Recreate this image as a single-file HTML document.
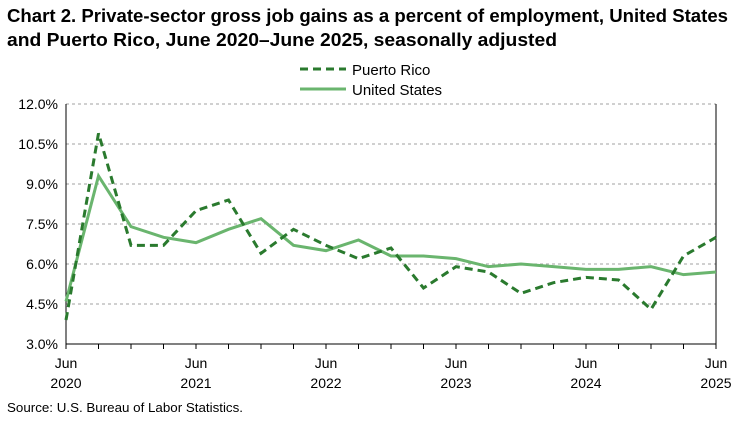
<!DOCTYPE html>
<html><head><meta charset="utf-8"><style>
body{margin:0;background:#fff;font-family:"Liberation Sans",Arial,sans-serif}
svg text{font-family:"Liberation Sans",Arial,sans-serif}
</style></head><body>
<svg id="s" width="750" height="420" xmlns="http://www.w3.org/2000/svg">
<text x="7" y="22" font-size="18" font-weight="bold" fill="#000" textLength="721" lengthAdjust="spacingAndGlyphs">Chart 2. Private-sector gross job gains as a percent of employment, United States</text>
<text x="7" y="46" font-size="18" font-weight="bold" fill="#000" textLength="550" lengthAdjust="spacingAndGlyphs">and Puerto Rico, June 2020–June 2025, seasonally adjusted</text>
<line x1="300" y1="69" x2="346" y2="69" stroke="#2a7a2e" stroke-width="3" stroke-dasharray="8,5"/>
<text x="352" y="75" font-size="15">Puerto Rico</text>
<line x1="300" y1="89" x2="346" y2="89" stroke="#6ab56e" stroke-width="3"/>
<text x="352" y="95" font-size="15">United States</text>
<g id="g"></g>
<text x="7" y="412" font-size="13" textLength="236" lengthAdjust="spacingAndGlyphs">Source: U.S. Bureau of Labor Statistics.</text>
</svg>
<script>
var g=document.getElementById('g'),h='';
function Y(v){return 104+(12-v)/1.5*40}
function X(i){return 66+i*32.5}
for(var k=0;k<7;k++){var v=12-1.5*k,y=Y(v);
 if(k<6)h+='<line x1="66" x2="716" y1="'+y+'" y2="'+y+'" stroke="#a0a0a0" stroke-dasharray="3,3"/>';
 h+='<text x="58" y="'+(y+5)+'" font-size="14" text-anchor="end">'+v.toFixed(1)+'%</text>';}
h+='<line x1="66" x2="716" y1="344" y2="344" stroke="#000"/><line x1="66" x2="66" y1="104" y2="344" stroke="#000"/><line x1="716" x2="716" y1="104" y2="344" stroke="#000"/>';
for(var i=0;i<=20;i++){h+='<line x1="'+X(i)+'" x2="'+X(i)+'" y1="344" y2="349" stroke="#000"/>';}
for(var j=0;j<6;j++){var x=X(j*4);h+='<text x="'+x+'" y="368" font-size="14" text-anchor="middle">Jun</text><text x="'+x+'" y="388" font-size="14" text-anchor="middle">'+(2020+j)+'</text>';}
var pr=[3.9,10.9,6.7,6.7,8.0,8.4,6.4,7.3,6.7,6.2,6.6,5.1,5.9,5.7,4.9,5.3,5.5,5.4,4.3,6.3,7.0];
var us=[4.6,9.3,7.4,7.0,6.8,7.3,7.7,6.7,6.5,6.9,6.3,6.3,6.2,5.9,6.0,5.9,5.8,5.8,5.9,5.6,5.7];
function pl(a){return a.map(function(v,i){return X(i)+','+Y(v)}).join(' ')}
h+='<polyline points="'+pl(us)+'" fill="none" stroke="#6ab56e" stroke-width="3"/>';
h+='<polyline points="'+pl(pr)+'" fill="none" stroke="#2a7a2e" stroke-width="3" stroke-dasharray="8,5"/>';
g.innerHTML=h;
</script>
</body></html>
